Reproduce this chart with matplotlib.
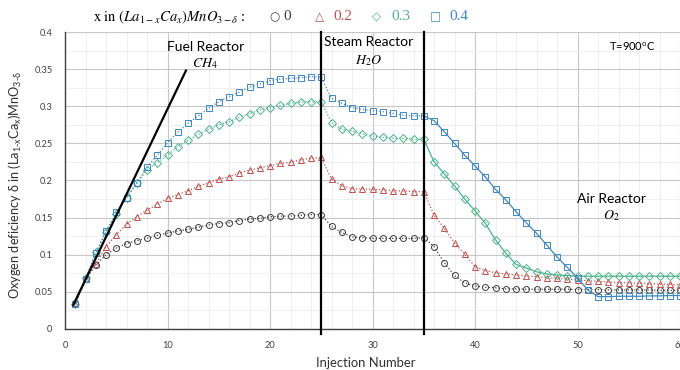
import numpy as np
import matplotlib
matplotlib.use("Agg")
import matplotlib.pyplot as plt
from matplotlib.ticker import MultipleLocator

plt.rcParams['font.family'] = ['Lato', 'DejaVu Sans']

# injection numbers and reactor boundaries
inj = np.arange(1, 61)
fuel_end = 25
steam_end = 35

# oxygen deficiency for each Ca content
d_00 = [0.035, 0.067, 0.086, 0.100, 0.109, 0.115, 0.119, 0.122, 0.126, 0.129,
        0.132, 0.134, 0.137, 0.140, 0.142, 0.143, 0.146, 0.148, 0.149, 0.151,
        0.152, 0.152, 0.153, 0.154, 0.154,
        0.138, 0.130, 0.124, 0.123, 0.122, 0.122, 0.122, 0.122, 0.122, 0.123,
        0.111, 0.089, 0.072, 0.062, 0.058, 0.056, 0.0555, 0.054, 0.054, 0.0535,
        0.0535, 0.0535, 0.0535, 0.0535, 0.053, 0.053, 0.053, 0.0525, 0.0525, 0.0525,
        0.0525, 0.0525, 0.052, 0.052, 0.052]
d_02 = [0.034, 0.067, 0.0875, 0.111, 0.127, 0.141, 0.151, 0.160, 0.168, 0.176,
        0.181, 0.186, 0.192, 0.197, 0.202, 0.205, 0.210, 0.214, 0.217, 0.220,
        0.223, 0.2245, 0.228, 0.230, 0.231,
        0.202, 0.193, 0.189, 0.1885, 0.188, 0.1875, 0.186, 0.186, 0.185, 0.185,
        0.1535, 0.1355, 0.116, 0.1005, 0.084, 0.0785, 0.0758, 0.074, 0.0727, 0.0714,
        0.0705, 0.069, 0.068, 0.067, 0.066, 0.065, 0.064, 0.0632, 0.0625, 0.062,
        0.0615, 0.061, 0.0605, 0.060, 0.0595]
d_03 = [0.034, 0.068, 0.103, 0.131, 0.155, 0.177, 0.197, 0.214, 0.224, 0.234,
        0.2456, 0.2545, 0.262, 0.269, 0.275, 0.279, 0.285, 0.290, 0.295, 0.298,
        0.301, 0.304, 0.3057, 0.306, 0.306,
        0.278, 0.269, 0.2667, 0.2626, 0.260, 0.258, 0.257, 0.2567, 0.2555, 0.2555,
        0.2253, 0.2088, 0.1926, 0.175, 0.159, 0.1423, 0.120, 0.102, 0.087, 0.082,
        0.077, 0.074, 0.0727, 0.0718, 0.0712, 0.071, 0.071, 0.071, 0.071, 0.071,
        0.071, 0.071, 0.071, 0.071, 0.071]
d_04 = [0.033, 0.067, 0.102, 0.132, 0.157, 0.177, 0.196, 0.218, 0.234, 0.251,
        0.265, 0.277, 0.287, 0.297, 0.306, 0.313, 0.319, 0.3255, 0.330, 0.3345,
        0.3367, 0.3376, 0.3385, 0.340, 0.339,
        0.3107, 0.304, 0.298, 0.296, 0.294, 0.2927, 0.2905, 0.288, 0.287, 0.287,
        0.2806, 0.2657, 0.250, 0.234, 0.2195, 0.205, 0.188, 0.174, 0.158, 0.143,
        0.129, 0.113, 0.097, 0.083, 0.0687, 0.0525, 0.0435, 0.0435, 0.044, 0.044,
        0.044, 0.0445, 0.0445, 0.045, 0.045]

series = [d_00, d_02, d_03, d_04]
labels = ['0', '0.2', '0.3', '0.4']
markers = ['o', '^', 'D', 's']
msizes = [4.3, 4.5, 3.6, 4.2]
colors = ['#404040', '#c0504d', '#4cb38c', '#3f88c5']
symbols = ['\u25cb', '\u25b3', '\u25c7', '\u25a1']
air_solid = [False, False, True, True]

# fuel reactor guide line (initial slope)
fuel_line_x = [0.8, 11.8]
fuel_line_y = [0.032, 0.348]

fig = plt.figure(figsize=(6.8, 3.7), dpi=100)
ax = fig.add_axes([0.0956, 0.111, 0.9044, 0.8025])

for d, m, ms, c, solid in zip(series, markers, msizes, colors, air_solid):
    d = np.array(d)
    # markers + dotted connectors
    ax.plot(inj[:steam_end], d[:steam_end], ls=':', lw=0.9, color=c,
            marker=m, ms=ms, mfc='none', mew=0.7, zorder=3)
    ax.plot(inj[steam_end - 1:], d[steam_end - 1:], ls='-' if solid else ':',
            lw=0.9, color=c, marker=None, zorder=3)
    ax.plot(inj[steam_end:], d[steam_end:], ls='none', color=c,
            marker=m, ms=ms, mfc='none', mew=0.7, zorder=3)

ax.plot(fuel_line_x, fuel_line_y, color='black', lw=1.6, zorder=4)
for xv in [fuel_end, steam_end]:
    ax.plot([xv, xv], [-0.007, 0.4], color='black', lw=1.6, zorder=4, clip_on=False)

ax.set_xlim(0, 60)
ax.set_ylim(0, 0.4)
ax.xaxis.set_major_locator(MultipleLocator(10))
ax.xaxis.set_minor_locator(MultipleLocator(2))
ax.yaxis.set_minor_locator(MultipleLocator(0.025))
ax.set_yticks(np.arange(0, 0.401, 0.05))
ax.set_yticklabels(['0', '0.05', '0.1', '0.15', '0.2', '0.25', '0.3', '0.35', '0.4'])
ax.grid(which='major', color='#c8c8c8', lw=0.8)
ax.grid(which='minor', color='#ececec', lw=0.6)
ax.set_axisbelow(True)
ax.tick_params(which='both', length=0, labelsize=6.7, colors='#404040')
ax.tick_params(axis='y', pad=9)
ax.tick_params(axis='x', pad=9)
for s in ['top', 'right']:
    ax.spines[s].set_visible(False)
for s in ['left', 'bottom']:
    ax.spines[s].set_color('#404040')
    ax.spines[s].set_linewidth(1.0)

ax.set_xlabel('Injection Number', fontsize=9.4, color='#303030')
ax.xaxis.set_label_coords(0.489, -0.094)
ax.set_ylabel(r'Oxygen deficiency δ in (La$_{\mathregular{1\text{-}x}}$Ca$_{\mathregular{x}}$)MnO$_{\mathregular{3\text{-}δ}}$',
              fontsize=9.2, color='#303030')
ax.yaxis.set_label_coords(-0.066, 0.485)

# reactor annotations
ax.text(13.7, 0.380, 'Fuel Reactor', fontsize=10, ha='center', va='center')
ax.text(13.7, 0.357, r'$CH_4$', fontsize=10, ha='center', va='center', math_fontfamily='stix')
ax.text(29.6, 0.386, 'Steam Reactor', fontsize=10, ha='center', va='center')
ax.text(29.6, 0.362, r'$H_2O$', fontsize=10, ha='center', va='center', math_fontfamily='stix')
ax.text(55.3, 0.380, r'T=900$^{\mathregular{o}}$C', fontsize=8, ha='center', va='center')
ax.text(53.3, 0.175, 'Air Reactor', fontsize=10, ha='center', va='center')
ax.text(53.3, 0.153, r'$O_2$', fontsize=10, ha='center', va='center', math_fontfamily='stix')

# legend-style header
hy = 1 - 17 / 370
fig.text(93 / 680, hy, r'$\mathrm{x\ in\ }(La_{1-x}Ca_x)MnO_{3-\delta}$ :', fontsize=10.5,
         family='Liberation Serif', math_fontfamily='stix', ha='left', va='center')
sym_x = [269, 315, 372, 430]
num_x = [283, 333, 391, 449]
for sx, nx, sym, lab, c in zip(sym_x, num_x, symbols, labels, colors):
    fig.text(sx / 680, hy, sym, fontsize=8.5, color=c, family='DejaVu Sans',
             ha='left', va='center')
    fig.text(nx / 680, hy, lab, fontsize=11, color=c, family='Liberation Serif',
             ha='left', va='center')

fig.savefig('out.png', dpi=100)
